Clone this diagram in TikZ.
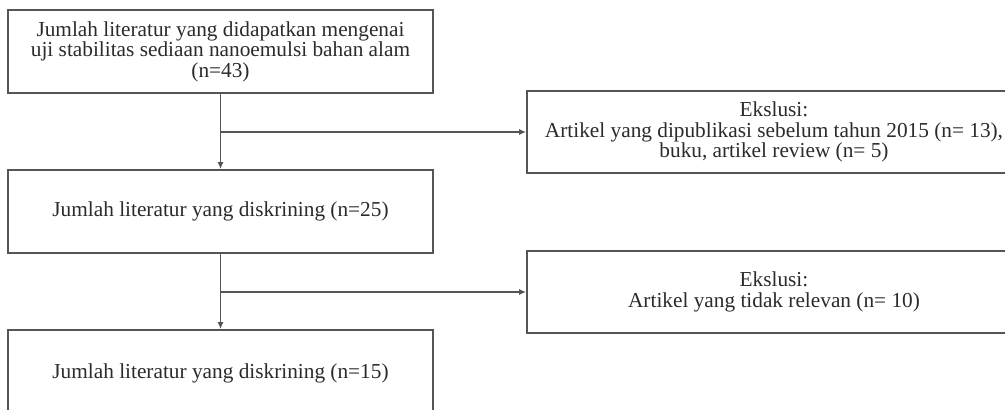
\documentclass[tikz,border=0pt]{standalone}
\usepackage{fontspec}
\setmainfont{Liberation Serif}
\usetikzlibrary{arrows.meta}
\definecolor{linegray}{HTML}{555555}
\definecolor{textgray}{HTML}{2B2B2B}
\tikzset{
  flowbox/.style={draw=linegray, line width=1.6pt, fill=white, align=center,
    text=textgray, inner sep=0pt, font=\fontsize{21.3}{20.5}\selectfont},
  flowarrow/.style={draw=linegray, line width=1.5pt, -{Latex[length=7pt,width=6pt]}},
  flowline/.style={draw=linegray, line width=1.5pt}
}
\begin{document}
\begin{tikzpicture}[x=1pt,y=-1pt]
\useasboundingbox (0,0) rectangle (1005,410);
\fill[white] (0,0) rectangle (1005,410);
\clip (0,0) rectangle (1005,410);
\node[flowbox, minimum width=425pt, minimum height=83pt] (b1) at (220.5,51.5)
  {Jumlah literatur yang didapatkan mengenai\\uji stabilitas sediaan nanoemulsi bahan alam\\(n=43)};
\node[flowbox, minimum width=494pt, minimum height=82pt] (b2) at (774,132)
  {Ekslusi:\\Artikel yang dipublikasi sebelum tahun 2015 (n= 13),\\buku, artikel review (n= 5)};
\node[flowbox, minimum width=425pt, minimum height=83pt] (b3) at (220.5,211.5)
  {Jumlah literatur yang diskrining (n=25)};
\node[flowbox, minimum width=494pt, minimum height=82pt] (b4) at (774,292)
  {Ekslusi:\\Artikel yang tidak relevan (n= 10)};
\node[flowbox, minimum width=425pt, minimum height=86pt] (b5) at (220.5,373)
  {Jumlah literatur yang diskrining (n=15)};
\coordinate (j1) at (b1.south |- b2.west);
\coordinate (j2) at (b3.south |- b4.west);
\draw[flowarrow] (b1.south) -- (b3.north);
\draw[flowarrow] (j1) -- (b2.west);
\draw[flowarrow] (b3.south) -- (b5.north);
\draw[flowarrow] (j2) -- (b4.west);
\end{tikzpicture}
\end{document}
